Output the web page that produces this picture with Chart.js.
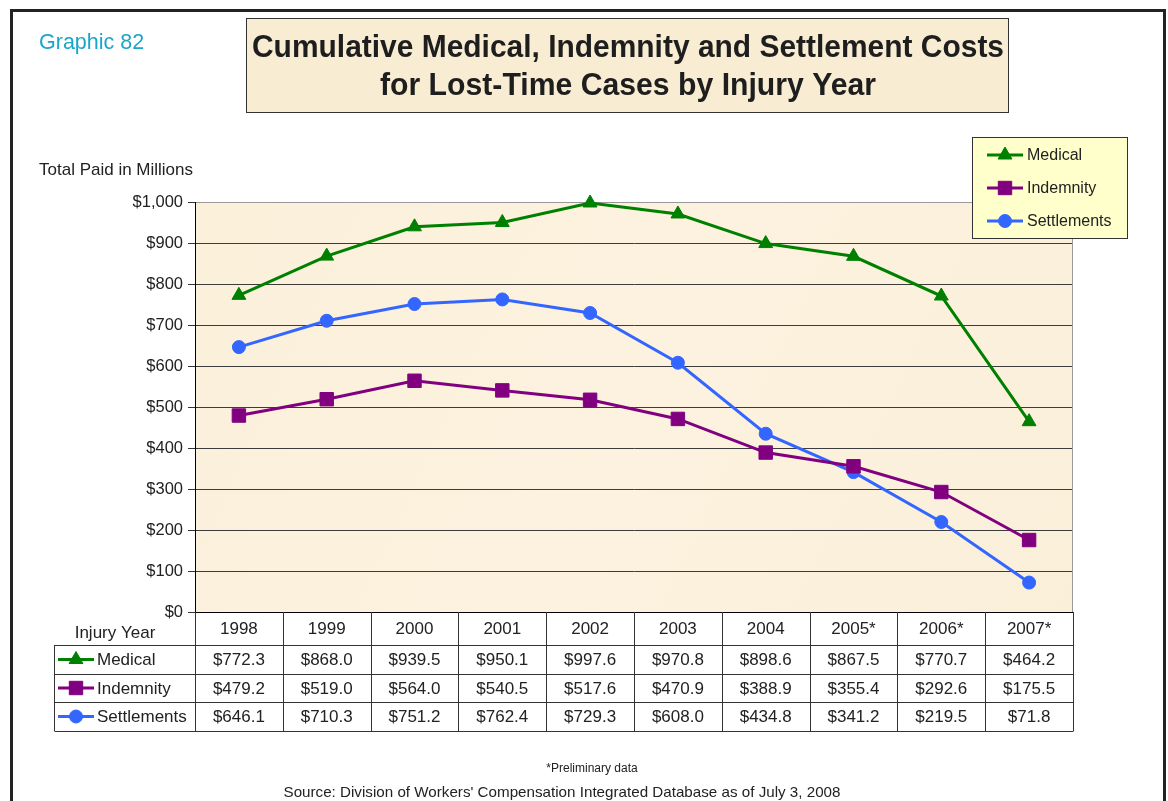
<!DOCTYPE html>
<html>
<head>
<meta charset="utf-8">
<title>Cumulative Medical, Indemnity and Settlement Costs</title>
<script src="https://cdn.jsdelivr.net/npm/chart.js@4/dist/chart.umd.min.js"></script>
<style>
  html, body { margin: 0; padding: 0; background: #ffffff; }
  canvas { display: block; }
</style>
</head>
<body>
<canvas id="c" width="1168" height="801"></canvas>
<script>
// Injury years and cumulative totals paid (millions of dollars)
const years = ['1998', '1999', '2000', '2001', '2002', '2003', '2004', '2005*', '2006*', '2007*'];
const medical = [772.3, 868.0, 939.5, 950.1, 997.6, 970.8, 898.6, 867.5, 770.7, 464.2];
const indemnity = [479.2, 519.0, 564.0, 540.5, 517.6, 470.9, 388.9, 355.4, 292.6, 175.5];
const settlements = [646.1, 710.3, 751.2, 762.4, 729.3, 608.0, 434.8, 341.2, 219.5, 71.8];
const yTicks = [0, 100, 200, 300, 400, 500, 600, 700, 800, 900, 1000];

const FONT = '"Liberation Sans", Arial, sans-serif';
const series = [
  { label: 'Medical', data: medical, color: '#008000', style: 'triangle', radius: 8 },
  { label: 'Indemnity', data: indemnity, color: '#800080', style: 'rect', radius: 9.5 },
  { label: 'Settlements', data: settlements, color: '#3366FF', style: 'circle', radius: 6.5 }
];

const money = v => '$' + v.toFixed(1);

function marker(ctx, s, x, y) {
  ctx.save();
  ctx.strokeStyle = s.color;
  ctx.lineWidth = 3;
  ctx.beginPath();
  ctx.moveTo(x - 18, y);
  ctx.lineTo(x + 18, y);
  ctx.stroke();
  ctx.fillStyle = s.color;
  ctx.lineWidth = 1;
  Chart.helpers.drawPoint(ctx, { pointStyle: s.style, radius: s.radius, borderWidth: 1, rotation: 0 }, x, y);
  ctx.restore();
}

function fitText(ctx, text, cx, cy, width) {
  const w = ctx.measureText(text).width;
  ctx.save();
  ctx.translate(cx, cy);
  ctx.scale(width / w, 1);
  ctx.fillText(text, 0, 0);
  ctx.restore();
}

const decor = {
  id: 'decor',
  beforeDraw(chart) {
    const ctx = chart.ctx;
    const a = chart.chartArea;
    ctx.save();
    ctx.fillStyle = '#ffffff';
    ctx.fillRect(0, 0, chart.width, chart.height);
    // outer frame
    ctx.strokeStyle = '#222';
    ctx.lineWidth = 3;
    ctx.strokeRect(11.5, 10.5, 1153, 820);
    // plot background
    const g = ctx.createLinearGradient(a.left, a.top, a.right, a.bottom);
    g.addColorStop(0, '#FBF0DA');
    g.addColorStop(0.5, '#FCF2DF');
    g.addColorStop(1, '#FAEFD9');
    ctx.fillStyle = g;
    ctx.fillRect(a.left, a.top, a.right - a.left, a.bottom - a.top);
    ctx.restore();
  },
  afterDraw(chart) {
    const ctx = chart.ctx;
    const a = chart.chartArea;
    const xs = chart.scales.x;
    ctx.save();

    // plot frame right edge
    ctx.strokeStyle = '#999';
    ctx.lineWidth = 1;
    ctx.beginPath();
    ctx.moveTo(a.right - 0.5, a.top);
    ctx.lineTo(a.right - 0.5, a.bottom);
    ctx.stroke();

    // caption top-left
    ctx.fillStyle = '#1AA6C6';
    ctx.font = '21.5px ' + FONT;
    ctx.textBaseline = 'middle';
    ctx.textAlign = 'left';
    ctx.fillText('Graphic 82', 39, 43);

    // y axis caption
    ctx.fillStyle = '#222';
    ctx.font = '17px ' + FONT;
    ctx.fillText('Total Paid in Millions', 39, 170);

    // title box
    ctx.fillStyle = '#F8ECD3';
    ctx.fillRect(246, 18, 762, 94);
    ctx.strokeStyle = '#333';
    ctx.lineWidth = 1;
    ctx.strokeRect(246.5, 18.5, 762, 94);
    ctx.fillStyle = '#1e1e1e';
    ctx.font = 'bold 32px ' + FONT;
    ctx.textAlign = 'center';
    fitText(ctx, 'Cumulative Medical, Indemnity and Settlement Costs', 628, 48, 752);
    fitText(ctx, 'for Lost-Time Cases by Injury Year', 628, 86, 496);

    // legend box
    ctx.fillStyle = '#FFFFCC';
    ctx.fillRect(972, 137, 155, 101);
    ctx.strokeStyle = '#333';
    ctx.strokeRect(972.5, 137.5, 155, 101);
    ctx.font = '16px ' + FONT;
    ctx.textAlign = 'left';
    series.forEach((s, i) => {
      const y = 155 + i * 33;
      marker(ctx, s, 1005, y);
      ctx.fillStyle = '#222';
      ctx.fillText(s.label, 1027, y + 1);
    });

    // data table under the plot, columns aligned with the category scale
    const centers = years.map((_, i) => xs.getPixelForValue(i));
    const step = centers.length > 1 ? centers[1] - centers[0] : 80;
    const edges = centers.map(c => c - step / 2);
    edges.push(centers[centers.length - 1] + step / 2);
    const top = a.bottom;
    const rows = [top, top + 33, top + 62, top + 90, top + 119];
    const leftCol = 54;

    ctx.strokeStyle = '#333';
    ctx.lineWidth = 1;
    ctx.beginPath();
    edges.forEach(x => {
      const px = Math.round(x) + 0.5;
      ctx.moveTo(px, rows[0]);
      ctx.lineTo(px, rows[4]);
    });
    for (let r = 1; r <= 4; r++) {
      const py = Math.round(rows[r]) + 0.5;
      ctx.moveTo(leftCol + 0.5, py);
      ctx.lineTo(Math.round(edges[edges.length - 1]) + 0.5, py);
    }
    ctx.moveTo(leftCol + 0.5, rows[1]);
    ctx.lineTo(leftCol + 0.5, rows[4]);
    ctx.stroke();

    ctx.fillStyle = '#222';
    ctx.font = '17px ' + FONT;
    ctx.textAlign = 'center';
    ctx.fillText('Injury Year', 115, top + 21);
    years.forEach((y, i) => ctx.fillText(y, centers[i], top + 17));
    series.forEach((s, r) => {
      const cy = (rows[r + 1] + rows[r + 2]) / 2 + 1;
      marker(ctx, s, 76, cy - 1);
      ctx.fillStyle = '#222';
      ctx.textAlign = 'left';
      ctx.fillText(s.label, 97, cy);
      ctx.textAlign = 'center';
      s.data.forEach((v, i) => ctx.fillText(money(v), centers[i], cy));
    });

    // footnotes
    ctx.font = '12px ' + FONT;
    ctx.fillText('*Preliminary data', 592, 769);
    ctx.font = '15px ' + FONT;
    fitText(ctx, "Source: Division of Workers' Compensation Integrated Database as of July 3, 2008", 562, 793, 557);

    ctx.restore();
  }
};

new Chart(document.getElementById('c'), {
  type: 'line',
  data: {
    labels: years,
    datasets: series.map(s => ({
      label: s.label,
      data: s.data,
      borderColor: s.color,
      backgroundColor: s.color,
      borderWidth: 3,
      pointStyle: s.style,
      pointRadius: s.radius,
      pointHoverRadius: s.radius,
      pointBorderWidth: 1,
      tension: 0,
      fill: false,
      clip: false
    }))
  },
  options: {
    responsive: false,
    devicePixelRatio: 1,
    animation: false,
    events: [],
    layout: { padding: { left: 0, top: 202, right: 95, bottom: 189 } },
    plugins: {
      legend: { display: false },
      title: { display: false },
      tooltip: { enabled: false }
    },
    scales: {
      x: {
        type: 'category',
        display: false,
        offset: true
      },
      y: {
        min: 0,
        max: 1000,
        afterBuildTicks: s => { s.ticks = yTicks.map(v => ({ value: v })); },
        afterFit: s => { s.width = 195; s.paddingTop = 0; s.paddingBottom = 0; },
        ticks: {
          callback: v => '$' + Number(v).toLocaleString('en-US'),
          font: { family: FONT, size: 16.5 },
          color: '#222',
          padding: 5
        },
        grid: {
          color: c => c.tick && c.tick.value === 1000 ? '#999' : (c.tick && c.tick.value === 0 ? '#000' : '#3c3c3c'),
          tickColor: '#333',
          tickLength: 7,
          lineWidth: 1
        },
        border: { color: '#000', width: 1 }
      }
    }
  },
  plugins: [decor]
});
</script>
</body>
</html>
